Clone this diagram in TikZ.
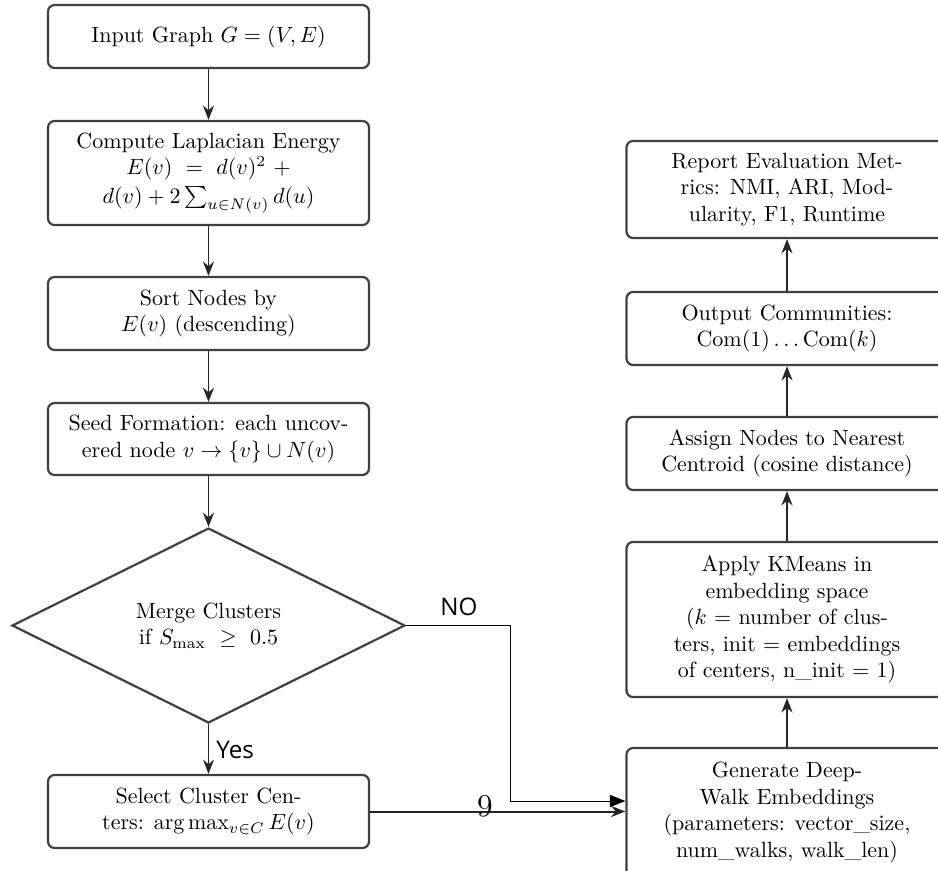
\documentclass[tikz,border=0pt]{standalone}
\usepackage{fontspec}
\newfontfamily\labelfont{Open Sans}
\usetikzlibrary{shapes.geometric,arrows.meta}
\begin{document}
\begin{tikzpicture}[x=0.4545pt,y=-0.4545pt,
  box/.style={draw=black!75, line width=1pt, rounded corners=3pt, fill=white,
    align=center, minimum width=145.9pt, inner sep=2pt},
  decision/.style={diamond, draw=black!75, line width=1pt, fill=white,
    align=center, minimum width=178.6pt, minimum height=88.6pt, inner sep=0pt, aspect=2},
  flow/.style={draw=black!85, line width=0.9pt, -{Stealth[length=6.5pt,width=5pt]}},
  noflow/.style={draw=black, line width=0.4pt, -{Triangle[length=7pt,width=5.5pt]}},
  lbl/.style={font=\labelfont\fontsize{11}{13}\selectfont, inner sep=0pt}
]
\useasboundingbox (0,0) rectangle (938,870);
\clip (0,0) rectangle (938,870);

% left column
\node[box, minimum height=28.6pt] (input) at (208.5,36.5) {Input Graph $G = (V, E)$};
\node[box, minimum height=47.3pt] (energy) at (208.5,173)
  {Compute Laplacian Energy\\ $E(v)\ =\ d(v)^2\ {+}$\\[1pt] $d(v) + 2\sum_{u\in N(v)} d(u)$};
\node[box, minimum height=33.2pt] (sort) at (208.5,313.5) {Sort Nodes by\\ $E(v)$ (descending)};
\node[box, minimum height=32.7pt] (seed) at (208.5,439)
  {Seed Formation: each uncov-\\ered node $v \to \{v\}\cup N(v)$};
\node[decision] (merge) at (208.5,625.5) {Merge Clusters\\ if $S_{\max}\ \geq\ 0.5$};
\node[box, minimum height=33.2pt] (select) at (208.5,811.5)
  {Select Cluster Cen-\\ters: $\arg\max_{v\in C} E(v)$};

% right column
\node[box, minimum height=58.6pt] (gen) at (787,812.5)
  {Generate Deep-\\Walk Embeddings\\(parameters: vector\_size,\\num\_walks, walk\_len)};
\node[box, minimum height=70.5pt] (kmeans) at (787,619.5)
  {Apply KMeans in\\embedding space\\($k$ $=$ number of clus-\\ters, init $=$ embeddings\\of centers, n\_init $=$ 1)};
\node[box, minimum height=33.2pt] (assign) at (787,453.5)
  {Assign Nodes to Nearest\\Centroid (cosine distance)};
\node[box, minimum height=33.2pt] (output) at (787,328.5)
  {Output Communities:\\$\mathrm{Com}(1)\ldots\mathrm{Com}(k)$};
\node[box, minimum height=44.1pt] (report) at (787,189.5)
  {Report Evaluation Met-\\rics: NMI, ARI, Mod-\\ularity, F1, Runtime};

% connectors
\draw[flow] (input) -- (energy);
\draw[flow] (energy) -- (sort);
\draw[flow] (sort) -- (seed);
\draw[flow] (seed) -- (merge);
\draw[flow] (merge) -- (select);
\draw[flow] (select.east) -- (select.east -| gen.west);
\coordinate (nocorner) at (510,801);
\draw[noflow] (merge.east) -| (nocorner) -- (nocorner -| gen.west);
\draw[flow] (gen) -- (kmeans);
\draw[flow] (kmeans) -- (assign);
\draw[flow] (assign) -- (output);
\draw[flow] (output) -- (report);

% labels
\node[lbl, anchor=west] (yes) at (216,750) {Yes};
\node[lbl] (no) at (459,607) {NO};
\node[font=\Large, inner sep=0pt] (nine) at (485,806) {9};
\end{tikzpicture}
\end{document}
